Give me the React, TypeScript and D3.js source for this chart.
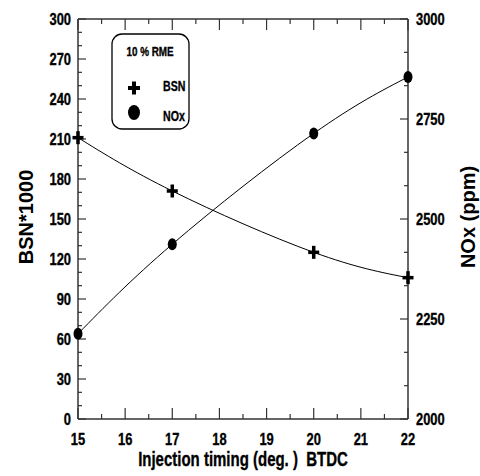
import React from "react";
import * as d3 from "d3";

const timing = [15, 17, 20, 22];
const bsnValues = [211, 171, 125, 106];
const noxValues = [2213, 2437, 2714, 2855];

const xTicks = [15, 16, 17, 18, 19, 20, 21, 22];
const leftTicks = [0, 30, 60, 90, 120, 150, 180, 210, 240, 270, 300];
const rightTicks = [2000, 2250, 2500, 2750, 3000];

const legendTitle = "10 % RME";
const seriesNames = ["BSN", "NOx"];
const xTitle = "Injection timing (deg. )  BTDC";
const yLeftTitle = "BSN*1000";
const yRightTitle = "NOx (ppm)";

const FONT = "'Liberation Sans', Arial, sans-serif";
const AXIS = "#333";

function NText({ x, y, size, anchor = "start", children, sx = 0.76, dy = 0 }: any) {
  return (
    <text
      transform={`translate(${x},${y}) scale(${sx},1)`}
      fontFamily={FONT}
      fontWeight="bold"
      fontSize={size}
      textAnchor={anchor}
      dy={dy}
      style={{ whiteSpace: "pre" }}
      fill="#000"
      stroke="#000"
      strokeWidth={0.35}
    >
      {children}
    </text>
  );
}

function Plus({ cx, cy, w, h, t }: any) {
  return (
    <g fill="#000">
      <rect x={cx - w / 2} y={cy - t / 2} width={w} height={t} />
      <rect x={cx - t / 2} y={cy - h / 2} width={t} height={h} />
    </g>
  );
}

export default function App() {
  const x = d3.scaleLinear().domain([15, 22]).range([78, 408]);
  const yL = d3.scaleLinear().domain([0, 300]).range([419, 19]);
  const yR = d3.scaleLinear().domain([2000, 3000]).range([419, 19]);

  const bsnLine = d3
    .line<number>()
    .x((_, i) => x(timing[i]))
    .y((d) => yL(d))
    .curve(d3.curveNatural)(bsnValues);
  const noxLine = d3
    .line<number>()
    .x((_, i) => x(timing[i]))
    .y((d) => yR(d))
    .curve(d3.curveNatural)(noxValues);

  const xMinor = d3.range(15.5, 22, 1);
  const leftMinor = d3.range(0, 301, 10).filter((v) => v % 30 !== 0);
  const rightMinor = d3.range(0, 12).map((i) => 2000 + (i * 250) / 3).filter((v, i) => i % 3 !== 0);

  const x0 = x(15), x1 = x(22), y0 = yL(0), y1 = yL(300);

  return (
    <svg width={480} height={476} style={{ position: "absolute", left: 0, top: 0, background: "#fff" }}>
      <rect width={480} height={476} fill="#fff" />
      {/* frame */}
      <g stroke={AXIS} strokeWidth={1.5} fill="none">
        <line x1={x0} x2={x1} y1={y0} y2={y0} />
        <line x1={x0} x2={x1} y1={y1} y2={y1} />
        <line x1={x0} x2={x0} y1={y0} y2={y1} />
        <line x1={x1} x2={x1} y1={y0} y2={y1} />
      </g>
      {/* ticks */}
      <g stroke={AXIS} strokeWidth={1.2}>
        {xTicks.map((t) => (
          <g key={"xt" + t}>
            <line x1={x(t)} x2={x(t)} y1={y0} y2={y0 - 11} />
            <line x1={x(t)} x2={x(t)} y1={y1} y2={y1 + 11} />
          </g>
        ))}
        {xMinor.map((t) => (
          <g key={"xm" + t}>
            <line x1={x(t)} x2={x(t)} y1={y0} y2={y0 - 5} />
            <line x1={x(t)} x2={x(t)} y1={y1} y2={y1 + 5} />
          </g>
        ))}
        {leftTicks.map((t) => (
          <line key={"lt" + t} x1={x0} x2={x0 + 8} y1={yL(t)} y2={yL(t)} />
        ))}
        {leftMinor.map((t) => (
          <line key={"lm" + t} x1={x0} x2={x0 + 4} y1={yL(t)} y2={yL(t)} />
        ))}
        {rightTicks.map((t) => (
          <line key={"rt" + t} x1={x1} x2={x1 - 8} y1={yR(t)} y2={yR(t)} />
        ))}
        {rightMinor.map((t) => (
          <line key={"rm" + t} x1={x1} x2={x1 - 4} y1={yR(t)} y2={yR(t)} />
        ))}
      </g>
      {/* tick labels */}
      {xTicks.map((t) => (
        <NText key={"xl" + t} x={x(t)} y={445} size={17} anchor="middle">
          {String(t)}
        </NText>
      ))}
      {leftTicks.map((t) => (
        <NText key={"ll" + t} x={71} y={yL(t)} size={17} anchor="end" dy="0.36em">
          {String(t)}
        </NText>
      ))}
      {rightTicks.map((t) => (
        <NText key={"rl" + t} x={416} y={yR(t)} size={17} anchor="start" dy="0.36em">
          {String(t)}
        </NText>
      ))}
      {/* axis titles */}
      <NText x={243} y={466} size={20} anchor="middle" sx={0.75}>
        {xTitle}
      </NText>
      <text
        transform={`translate(33,217) rotate(-90)`}
        fontFamily={FONT}
        fontWeight="bold"
        fontSize={20}
        textAnchor="middle"
      >
        {yLeftTitle}
      </text>
      <text
        transform={`translate(475,217) rotate(-90)`}
        fontFamily={FONT}
        fontWeight="bold"
        fontSize={20}
        textAnchor="middle"
      >
        {yRightTitle}
      </text>
      {/* curves */}
      <path d={bsnLine || ""} fill="none" stroke="#000" strokeWidth={1} />
      <path d={noxLine || ""} fill="none" stroke="#000" strokeWidth={1} />
      {/* markers */}
      {bsnValues.map((v, i) => (
        <Plus key={"bp" + i} cx={x(timing[i])} cy={yL(v)} w={11} h={13} t={3.5} />
      ))}
      {noxValues.map((v, i) => (
        <ellipse key={"np" + i} cx={x(timing[i])} cy={yR(v)} rx={4.5} ry={6} fill="#000" />
      ))}
      {/* legend */}
      <rect x={112} y={34} width={77} height={95} rx={10} ry={10} fill="#fff" stroke="#000" strokeWidth={1.3} />
      <NText x={150} y={56} size={13} anchor="middle">
        {legendTitle}
      </NText>
      <Plus cx={134} cy={88} w={12} h={13} t={4} />
      <NText x={163} y={91} size={14}>
        {seriesNames[0]}
      </NText>
      <ellipse cx={134} cy={112.5} rx={6} ry={7.5} fill="#000" />
      <NText x={163} y={121} size={14}>
        {seriesNames[1]}
      </NText>
    </svg>
  );
}
